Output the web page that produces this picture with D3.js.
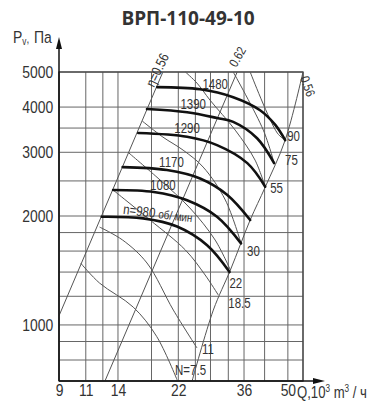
<!DOCTYPE html>
<html><head><meta charset="utf-8">
<script src="https://cdn.jsdelivr.net/npm/d3@7"></script>
<style>body{margin:0;background:#fff}svg{display:block}</style>
</head><body><svg id="c" width="380" height="419"></svg>
<script>
const title = "ВРП-110-49-10";
const qGrid = [9, 11, 12.5, 14, 18, 22, 25, 28, 32, 36, 42, 50, 56];
const qTicks = [9, 11, 14, 22, 36, 50];
const pGrid = [700, 800, 900, 1000, 1200, 1400, 1600, 1800, 2000, 2500, 3000, 3500, 4000, 5000];
const pTicks = [1000, 2000, 3000, 4000, 5000];

// speed curves, n rpm
const speeds = [1480, 1390, 1290, 1170, 1080, 980];
const q1480 = [18.8, 25.9, 33.2, 40.6, 45.5, 49.0];
const p1480 = [4540, 4480, 4260, 3920, 3570, 3240];
const q1390 = [17.4, 23.5, 29.4, 33.2, 39.7, 45.1];
const p1390 = [3950, 3870, 3730, 3640, 3280, 2800];
const q1290 = [16.3, 23.5, 29.4, 36.9, 42.2];
const p1290 = [3390, 3310, 3140, 2800, 2410];
const q1170 = [14.5, 20.2, 25.9, 31.7, 37.7];
const p1170 = [2730, 2680, 2540, 2290, 1950];
const q1080 = [13.5, 18.3, 23.5, 29.4, 35.2];
const p1080 = [2360, 2330, 2210, 1990, 1680];
const q980 = [12.4, 16.9, 21.8, 27.3, 32.3];
const p980 = [1990, 1970, 1870, 1660, 1400];
const speedLabelQ = [29.0, 24.6, 23.5, 20.9, 19.6];

// efficiency lines
const etaLabels = ["η=0.56", "0.62", "0.56"];
const qEtaL = [9, 19.6], pEtaL = [1060, 5000];
const qEta62 = [12.7, 34.2], pEta62 = [700, 5000];
const qEtaR = [24.4, 28.6, 32.5, 37.7, 42.2, 49.0, 56], pEtaR = [700, 1099, 1418, 1950, 2405, 3242, 5000];

// power lines N, kW
const nLabels = ["90", "75", "55", "30", "22", "18.5", "11", "N=7.5"];
const qN90 = [37.7, 46.2, 49.0], pN90 = [5000, 3390, 3242];
const qN75 = [33.2, 41.6, 45.1], pN75 = [5000, 3454, 2801];
const qN55 = [23.2, 25.3, 27.9, 33.7, 39.1, 42.2], pN55 = [5000, 4660, 4181, 3454, 2854, 2405];
const qN30 = [16.8, 19.6, 22.8, 26.5, 31.3, 35.2], pN30 = [3659, 3305, 3042, 2731, 2214, 1681];
const qN22 = [15.1, 19.2, 24.0, 29.0, 32.5], pN22 = [3000, 2514, 2104, 1716, 1418];
const qN185 = [13.5, 17.8, 23.2, 26.9, 29.7], pN185 = [2359, 1950, 1611, 1374, 1209];
const qN11 = [12.2, 14.5, 17.4, 21.2, 25.3], pN11 = [1864, 1716, 1483, 1099, 864];
const qN75b = [10.6, 12.2, 15.7, 18.7, 21.8], pN75b = [1480, 1305, 1120, 930, 705];

const zip = (a, b) => a.map((v, i) => [v, b[i]]);
const speedTable = [[q1480,p1480],[q1390,p1390],[q1290,p1290],[q1170,p1170],[q1080,p1080],[q980,p980]].map(d => zip(d[0], d[1]));
const powerTable = [[qN90,pN90],[qN75,pN75],[qN55,pN55],[qN30,pN30],[qN22,pN22],[qN185,pN185],[qN11,pN11],[qN75b,pN75b]].map(d => zip(d[0], d[1]));
const etaTable = [[qEtaL,pEtaL],[qEta62,pEta62],[qEtaR,pEtaR]].map(d => zip(d[0], d[1]));

const svg = d3.select("#c");
const x = d3.scaleLog().domain([9, 56]).range([59, 303]);
const y = d3.scaleLog().domain([700, 5000]).range([381, 72]);
const FONT = "'Liberation Sans', Arial, sans-serif";
const SX = 0.82;
const INK = "#333";

function txt(parent, px, py, s, size, rot) {
  return parent.append("text")
    .attr("transform", `translate(${px},${py}) rotate(${rot || 0}) scale(${SX},1)`)
    .attr("font-size", size).text(s);
}

svg.append("text").attr("x", 188).attr("y", 25).attr("text-anchor", "middle")
  .attr("font-family", "'Open Sans', sans-serif").attr("font-weight", 700)
  .attr("font-size", 19).attr("fill", INK).text(title);

// grid
const g = svg.append("g").attr("stroke", "#666").attr("stroke-width", 1).attr("fill", "none");
qGrid.forEach(q => g.append("line").attr("x1", x(q)).attr("x2", x(q)).attr("y1", y(700)).attr("y2", y(5000)));
pGrid.forEach(p => g.append("line").attr("x1", x(9)).attr("x2", x(56)).attr("y1", y(p)).attr("y2", y(p)));
svg.append("rect").attr("x", x(9)).attr("y", y(5000)).attr("width", x(56) - x(9)).attr("height", y(700) - y(5000))
  .attr("fill", "none").attr("stroke", "#444").attr("stroke-width", 1.3);

const line = d3.line().x(d => x(d[0])).y(d => y(d[1])).curve(d3.curveCatmullRom.alpha(0.5));
const thin = svg.append("g").attr("fill", "none").attr("stroke", "#555").attr("stroke-width", 1);
etaTable.forEach(d => thin.append("path").attr("d", line(d)));
powerTable.forEach(d => thin.append("path").attr("d", line(d)));

const thick = svg.append("g").attr("fill", "none").attr("stroke", "#111").attr("stroke-width", 2.6).attr("stroke-linecap", "round");
speedTable.forEach(d => thick.append("path").attr("d", line(d)));

// axes
const ax = svg.append("g").attr("stroke", "#111").attr("stroke-width", 1.5);
ax.append("line").attr("x1", x(9)).attr("x2", x(9)).attr("y1", y(700)).attr("y2", 46);
ax.append("line").attr("x1", x(9)).attr("x2", 318).attr("y1", y(700)).attr("y2", y(700));
svg.append("path").attr("d", `M${x(9)},37 L${x(9)-3},49 L${x(9)+3},49Z`).attr("fill", "#111");
svg.append("path").attr("d", `M325,${y(700)} L313,${y(700)-3} L313,${y(700)+3}Z`).attr("fill", "#111");

const yAxis = svg.append("g").attr("transform", `translate(${x(9)},0)`)
  .call(d3.axisLeft(y).tickValues(pTicks).tickSize(0).tickPadding(7).tickFormat(d3.format("d")));
yAxis.select(".domain").remove();
yAxis.selectAll("text").attr("font-family", FONT).attr("font-size", 17).attr("fill", INK)
  .attr("transform", `scale(${SX},1)`);

const xAxis = svg.append("g").attr("transform", `translate(0,${y(700)})`)
  .call(d3.axisBottom(x).tickValues(qTicks).tickSize(0).tickPadding(3).tickFormat(d3.format("d")));
xAxis.select(".domain").remove();
xAxis.selectAll("text").attr("font-family", FONT).attr("font-size", 17).attr("fill", INK)
  .attr("transform", `scale(${SX},1)`);

const lab = svg.append("g").attr("font-family", FONT).attr("fill", INK);

// axis titles
const yt = txt(lab, 13, 43, "", 17);
yt.append("tspan").text("P");
yt.append("tspan").attr("font-size", 10).attr("dy", 2).text("v");
yt.append("tspan").attr("font-size", 12).attr("dy", -2).text(",");
yt.append("tspan").attr("dx", 6).text("Па");

const xt = txt(lab, 297, 398, "", 16);
xt.append("tspan").text("Q,10");
xt.append("tspan").attr("font-size", 10).attr("dy", -6).text("3");
xt.append("tspan").attr("dy", 6).text(" m");
xt.append("tspan").attr("font-size", 10).attr("dy", -6).text("3");
xt.append("tspan").attr("dy", 6).text(" / ч");

// speed labels
speedLabelQ.forEach((q, i) => {
  const c = speedTable[i];
  const interp = d3.scaleLinear().domain(c.map(d => Math.log(d[0]))).range(c.map(d => Math.log(d[1])));
  const py = y(Math.exp(interp(Math.log(q))));
  txt(lab, x(q), py - 4, speeds[i], 14).attr("text-anchor", "middle");
});
// n=980 label
const c980 = speedTable[5];
const nt = txt(lab, x(c980[0][0]) + 21, y(c980[0][1]) - 3, "", 14, 7);
nt.append("tspan").text("n=" + speeds[5] + " ");
nt.append("tspan").attr("font-size", 12).text("об/ мин");

// power labels at line ends
const nOff = [[2, 1], [11, 2], [5, 6], [6, 13], [-1, 18], [10, 13], [5, 6], [-2, -5]];
powerTable.forEach((d, i) => {
  const e = d[d.length - 1];
  txt(lab, x(e[0]) + nOff[i][0], y(e[1]) + nOff[i][1], nLabels[i], 14);
});

// efficiency labels
const etaTop = etaTable.map(d => d[d.length - 1]);
txt(lab, x(etaTop[0][0]) - 9, y(etaTop[0][1]) + 16, etaLabels[0], 14, -64);
txt(lab, x(etaTop[1][0]) - 1, y(etaTop[1][1]) - 4, etaLabels[1], 13, -60);
txt(lab, x(etaTop[2][0]) - 3, y(etaTop[2][1]) + 6, etaLabels[2], 13, 70);
</script></body></html>
